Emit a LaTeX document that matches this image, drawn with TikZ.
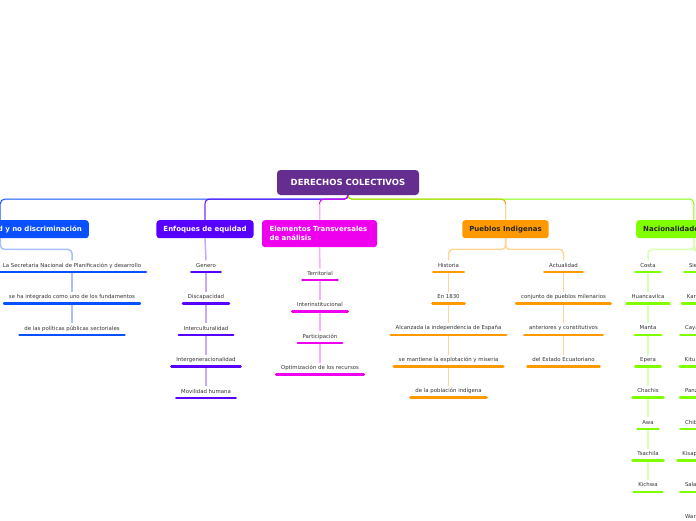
\documentclass[tikz,border=0pt]{standalone}
\usepackage{fontspec}
\setmainfont{DejaVu Sans}
\usetikzlibrary{backgrounds}
\definecolor{cRoot}{RGB}{102,45,145}
\definecolor{cB}{RGB}{10,80,255}
\definecolor{cP}{RGB}{88,0,255}
\definecolor{cM}{RGB}{238,0,238}
\definecolor{cO}{RGB}{255,153,0}
\definecolor{cG}{RGB}{128,255,0}
\definecolor{lB}{RGB}{168,192,255}
\definecolor{lP}{RGB}{200,168,255}
\definecolor{lM}{RGB}{248,176,248}
\definecolor{lO}{RGB}{255,214,153}
\definecolor{lG}{RGB}{217,255,179}
\definecolor{txt}{RGB}{51,51,51}
\begin{document}
\begin{tikzpicture}[x=1pt,y=-1pt,
  rootbox/.style={rounded corners=3.5pt, fill=cRoot, text=white,
    font=\fontsize{8.5}{10}\selectfont\bfseries, minimum width=142pt, minimum height=25pt, inner sep=0pt},
  hd/.style={rounded corners=3pt, fill=#1, font=\fontsize{7}{9}\selectfont\bfseries,
    text=white, minimum height=18pt, inner xsep=7pt, inner ysep=2pt},
  itm/.style={font=\fontsize{5.4}{6}\selectfont, text=txt, anchor=base,
    inner xsep=4.7pt, inner ysep=2.5pt, text height=4pt, text depth=1.2pt,
    append after command={([yshift=-5pt]\tikzlastnode.base west) edge[line width=2.6pt, line cap=round, draw=#1] ([yshift=-5pt]\tikzlastnode.base east)}},
  mainline/.style={draw=#1, line width=1pt, rounded corners=4pt},
  subline/.style={draw=#1, line width=1.5pt, rounded corners=4pt}
]
\useasboundingbox (0,0) rectangle (696,520);

% root and main headings
\node[rootbox] (root) at (348,182.5) {DERECHOS COLECTIVOS};
\node[hd=cB, anchor=north east] (ig) at (89,220) {Principio de igualdad y no discriminación};
\node[hd=cP, anchor=north] (en) at (205,220) {Enfoques de equidad};
\node[hd=cM, anchor=north, text width=100pt, align=left, minimum height=27pt, inner xsep=7.5pt] (el) at (319.5,220) {Elementos Transversales\\de análisis};
\node[hd=cO, anchor=north, text=black!85] (pi) at (505.5,220) {Pueblos Indigenas};
\node[hd=cG, anchor=north west, text=black!85] (na) at (636,220) {Nacionalidades Indigenas};

% items
\foreach \t [count=\i] in {La Secretaria Nacional de Planificación y desarrollo,
  se ha integrado como uno de los fundamentos,
  de las políticas públicas sectoriales}
  \node[itm=cB] (a\i) at (72,{267+31.5*(\i-1)}) {\t};
\foreach \t [count=\i] in {Genero,Discapacidad,Interculturalidad,Intergeneracionalidad,Movilidad humana}
  \node[itm=cP] (b\i) at (206,{267+31.5*(\i-1)}) {\t};
\foreach \t [count=\i] in {Territorial,Interinstitucional,Participación,Optimización de los recursos}
  \node[itm=cM] (c\i) at (320,{275+31.5*(\i-1)}) {\t};
\foreach \t [count=\i] in {Historia,En 1830,Alcanzada la independencia de España,
  se mantiene la explotación  y miseria,de la población indígena}
  \node[itm=cO] (d\i) at (448.5,{267+31.4*(\i-1)}) {\t};
\foreach \t [count=\i] in {Actualidad,conjunto de pueblos milenarios,anteriores y constitutivos,del Estado Ecuatoriano}
  \node[itm=cO] (e\i) at (563.5,{267+31.4*(\i-1)}) {\t};
\foreach \t [count=\i] in {Costa,Huancavilca,Manta,Epera,Chachis,Awa,Tsachila,Kichwa}
  \node[itm=cG] (f\i) at (648,{267+31.4*(\i-1)}) {\t};
\foreach \t [count=\i] in {Sierra,Karanki,Cayambi,Kitu Kara,Panzaleo,Chibuleo,Kisapincha,Salasaka,Waranka}
  \node[itm=cG] (g\i) at (697,{267+31.4*(\i-1)}) {\t};

\begin{scope}[on background layer]
% root connectors
\draw[mainline=cO] (root.south) -- ++(0,4) -| (pi.north);
\draw[mainline=cG] (root.south) -- ++(0,4) -| (na.north);
\draw[mainline=cB] (root.south) -- ++(0,4) -| (ig.north);
\draw[mainline=cP] (root.south) -- ++(0,4) -| (en.north);
\draw[mainline=cM] (root.south) -- ++(0,4) -| (el.north);
% lighter lower parts of the root connectors
\draw[subline=lO] ([yshift=16pt]pi.north) -- (pi.north);
\draw[subline=lP!70!cP] ([yshift=16pt]en.north) -- (en.north);
\draw[subline=lM] ([yshift=16pt]el.north) -- (el.north);
\draw[subline=lB!60!cB] ([yshift=16pt]ig.north) -- (ig.north);
% heading to first items
\draw[subline=lB] (ig.south) -- ++(0,11) -| (a1.north);
\draw[subline=lP] (en.south) -- (b1.north);
\draw[subline=lM] (el.south) -- (c1.north);
\draw[subline=lO] (pi.south) -- ++(0,11) -| (d1.north);
\draw[subline=lO] (pi.south) -- ++(0,11) -| (e1.north);
\draw[subline=lG] (na.south) -- ++(0,11) -| (f1.north);
\draw[subline=lG] (na.south) -- ++(0,11) -| (g1.north);
% item chains
\foreach \p/\q in {a1/a2,a2/a3} \draw[subline=lB] (\p.south) -- (\q.north);
\foreach \p/\q in {b1/b2,b2/b3,b3/b4,b4/b5} \draw[subline=lP] (\p.south) -- (\q.north);
\foreach \p/\q in {c1/c2,c2/c3,c3/c4} \draw[subline=lM] (\p.south) -- (\q.north);
\foreach \p/\q in {d1/d2,d2/d3,d3/d4,d4/d5,e1/e2,e2/e3,e3/e4} \draw[subline=lO] (\p.south) -- (\q.north);
\foreach \p/\q in {f1/f2,f2/f3,f3/f4,f4/f5,f5/f6,f6/f7,f7/f8,g1/g2,g2/g3,g3/g4,g4/g5,g5/g6,g6/g7,g7/g8,g8/g9} \draw[subline=lG] (\p.south) -- (\q.north);
\end{scope}
\end{tikzpicture}
\end{document}
